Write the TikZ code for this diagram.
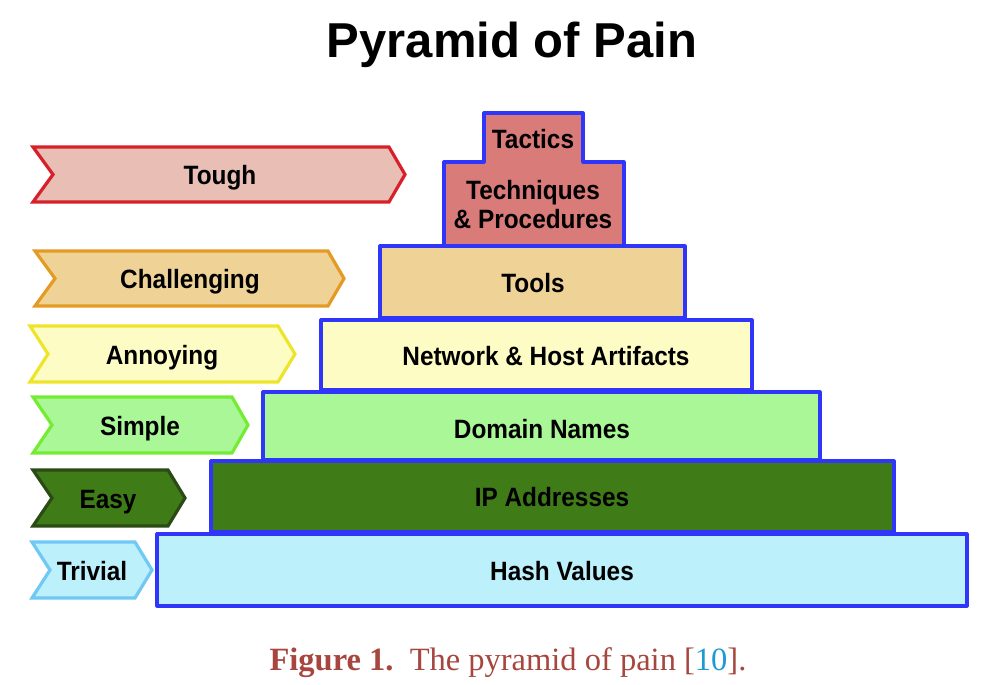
\documentclass[tikz,border=0pt]{standalone}
\usepackage{fontspec}
\setmainfont{Liberation Sans}
\newfontfamily\lblfont[FakeStretch=0.92]{Liberation Sans}
\newfontfamily\capfont{Liberation Serif}
\definecolor{toughF}{HTML}{E9BEB4}
\definecolor{toughD}{HTML}{D8202B}
\definecolor{chalF}{HTML}{EFD295}
\definecolor{chalD}{HTML}{E39B26}
\definecolor{annF}{HTML}{FDFCC4}
\definecolor{annD}{HTML}{EDE52C}
\definecolor{simF}{HTML}{A9F796}
\definecolor{simD}{HTML}{74EC33}
\definecolor{easyF}{HTML}{3F7C18}
\definecolor{easyD}{HTML}{2B4A15}
\definecolor{trivF}{HTML}{BCF0FB}
\definecolor{trivD}{HTML}{70C8F4}
\definecolor{ttpF}{HTML}{D97B79}
\definecolor{pyrD}{HTML}{3035FA}
\definecolor{capred}{HTML}{A6463F}
\definecolor{refblue}{HTML}{1B9AD6}
\tikzset{
  chev/.style={line width=3.2pt, line join=miter},
  pyr/.style={draw=pyrD, line width=3.2pt, line join=round},
  lbl/.style={anchor=base, inner sep=0pt, font=\lblfont\bfseries\fontsize{26.5}{29}\selectfont},
}
\begin{document}
\begin{tikzpicture}[x=1pt,y=-1pt]
\useasboundingbox (0,0) rectangle (989,685);
% title
\node[anchor=base, inner sep=0pt, font=\bfseries\fontsize{49}{49}\selectfont] (title) at (512,58) {Pyramid of Pain};
% chevrons
\draw[chev, draw=toughD, fill=toughF] (33,147) -- (389,147) -- (405,174.5) -- (389,202) -- (33,202) -- (53,174.5) -- cycle;
\draw[chev, draw=chalD, fill=chalF] (35,251) -- (328,251) -- (344,278.5) -- (328,306) -- (35,306) -- (55,278.5) -- cycle;
\draw[chev, draw=annD, fill=annF] (30,326) -- (278,326) -- (295,354) -- (278,382) -- (30,382) -- (48,354) -- cycle;
\draw[chev, draw=simD, fill=simF] (33,397) -- (232,397) -- (248,425) -- (232,453) -- (33,453) -- (52,425) -- cycle;
\draw[chev, draw=easyD, fill=easyF] (33,470) -- (168,470) -- (185,498) -- (168,526) -- (33,526) -- (52,498) -- cycle;
\draw[chev, draw=trivD, fill=trivF] (32,542) -- (135,542) -- (152,570) -- (135,598) -- (32,598) -- (50,570) -- cycle;
\node[lbl] (tough) at (220,184.5) {Tough};
\node[lbl] (chal) at (190,288.5) {Challenging};
\node[lbl] (ann) at (162,364) {Annoying};
\node[lbl] (sim) at (140,435) {Simple};
\node[lbl] (easy) at (108,508) {Easy};
\node[lbl] (triv) at (92,580) {Trivial};
% pyramid
\draw[pyr, fill=trivF] (157,534) rectangle (967,606);
\draw[pyr, fill=easyF] (211,461) rectangle (894,532);
\draw[pyr, fill=simF] (263,392) rectangle (820,460);
\draw[pyr, fill=annF] (321,320) rectangle (752,390);
\draw[pyr, fill=chalF] (380,246) rectangle (685,318);
\draw[pyr, fill=ttpF] (444,246) -- (444,162) -- (484,162) -- (484,113) -- (583,113) -- (583,162) -- (624,162) -- (624,246) -- cycle;
\node[lbl] (tactics) at (533,149) {Tactics};
\node[lbl] (tech) at (533,199) {Techniques};
\node[lbl] (proc) at (533,228) {\& Procedures};
\node[lbl] (tools) at (533,292) {Tools};
\node[lbl] (net) at (546,365) {Network \& Host Artifacts};
\node[lbl] (dom) at (542,438) {Domain Names};
\node[lbl] (ip) at (552,506) {IP Addresses};
\node[lbl] (hash) at (562,580) {Hash Values};
% caption
\node[anchor=base, inner sep=0pt, font=\capfont\fontsize{32.5}{32.5}\selectfont] (cap) at (508,670)
  {\textcolor{capred}{\textbf{Figure 1.}}\enspace\textcolor{capred}{The pyramid of pain [}\textcolor{refblue}{10}\textcolor{capred}{].}};
\end{tikzpicture}
\end{document}
